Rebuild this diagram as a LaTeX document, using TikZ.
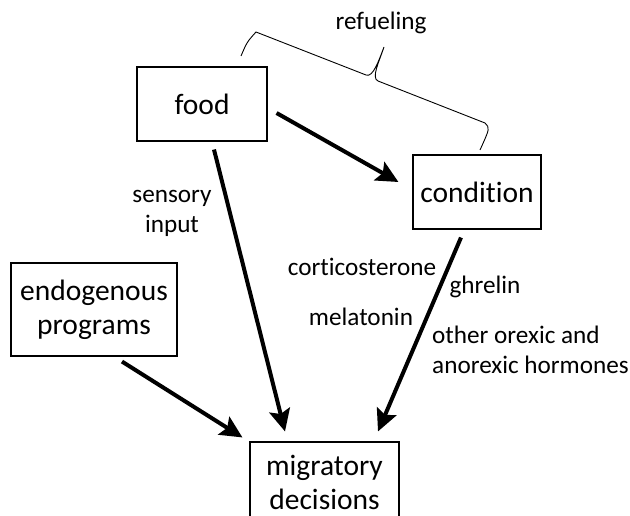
\documentclass[tikz,border=0pt]{standalone}
\usepackage{fontspec}
\setmainfont{Carlito}[Ligatures=NoCommon]
\usepackage{xcolor}
\usetikzlibrary{positioning,arrows.meta}

\begin{document}
\begin{tikzpicture}[
x=1pt,y=-1pt,
box/.style={draw,line width=1.1pt,inner sep=0pt,align=center,font=\fontsize{29.5}{34}\selectfont},
lbl/.style={inner sep=0pt,align=center,font=\fontsize{25.2}{30}\selectfont},
arr/.style={line width=4pt,-{Stealth[length=22pt,width=21pt,inset=4pt]}},
>=Stealth
]
\useasboundingbox (0,0) rectangle (630,516);

\node[box,minimum width=130pt,minimum height=74pt] (food) at (202,104) {food};
\node[box,minimum width=128pt,minimum height=74pt] (cond) at (477,192) {condition};
\node[box,minimum width=166pt,minimum height=93pt] (endo) at (94,309.5) {endogenous\\programs};
\node[box,minimum width=149pt,minimum height=80pt] (migr) at (324.5,482) {migratory\\decisions};

\node[lbl] (refuel) at (381,23) {refueling};
\node[lbl] (sens) at (172,213) {sensory\\input};
\node[lbl] (cort) at (362,267) {corticosterone};
\node[lbl] (ghre) at (485,287) {ghrelin};
\node[lbl] (mela) at (361,317) {melatonin};
\node[lbl,align=left,anchor=west] (other) at (432,350) {other orexic and\\anorexic hormones};

% brace over food and condition
\draw[line width=0.9pt] (241,56) .. controls (247,42) .. (256,32) -- (366,75)
  .. controls (373,78) and (379,60) .. (384,47)
  .. controls (379,62) and (371,78) .. (378,81) -- (485,123)
  .. controls (490,128) .. (480,150);

\draw[arr] ([shift={(9,9)}]food.east) -- ([shift={(-14,-10)}]cond.west);
\draw[arr] ([shift={(12,8)}]food.south) -- ([shift={(-39.5,-10)}]migr.north);
\draw[arr] ([shift={(-16,8)}]cond.south) -- ([shift={(53.5,-10)}]migr.north);
\draw[arr] ([shift={(28,5)}]endo.south) -- ([shift={(-7,-4)}]migr.north west);
\end{tikzpicture}
\end{document}
